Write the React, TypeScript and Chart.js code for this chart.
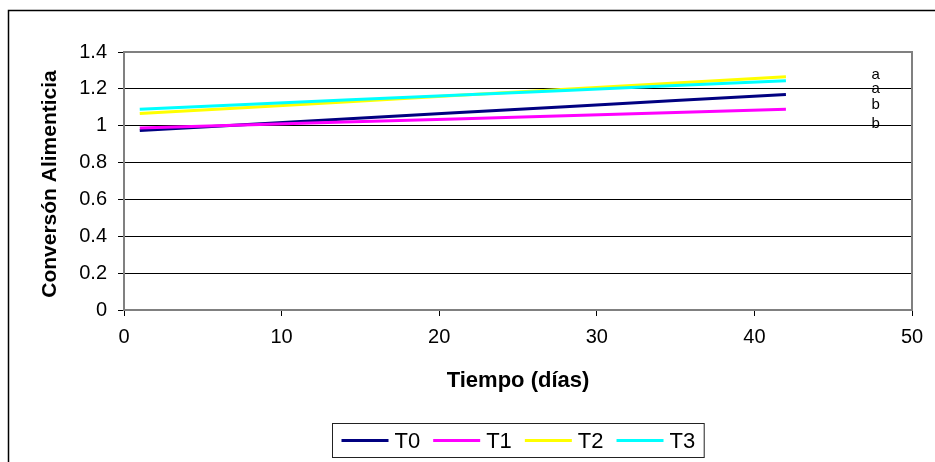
import React, { useEffect, useRef } from 'react';
import { Chart, registerables } from 'chart.js';

Chart.register(...registerables);

// ---- data ----
const days = [1, 7, 14, 21, 28, 35, 42];
const t0Values = [0.974, 1.003, 1.036, 1.070, 1.103, 1.137, 1.170];
const t1Values = [0.988, 1.003, 1.020, 1.037, 1.054, 1.072, 1.089];
const t2Values = [1.066, 1.095, 1.129, 1.164, 1.198, 1.232, 1.266];
const t3Values = [1.090, 1.113, 1.139, 1.165, 1.191, 1.218, 1.244];
const seriesNames = ['T0', 'T1', 'T2', 'T3'];
const seriesColors = ['#000080', '#FF00FF', '#FFFF00', '#00FFFF'];
const seriesValues = [t0Values, t1Values, t2Values, t3Values];

const xMin = 0;
const xMax = 50;
const xStep = 10;
const yMin = 0;
const yMax = 1.4;
const yStep = 0.2;

const xTitle = 'Tiempo (días)';
const yTitle = 'Conversón Alimenticia';

const letterLabels = ['a', 'a', 'b', 'b'];
const letterYValues = [1.274, 1.199, 1.113, 1.011];
const letterXValue = 47.7;

const FONT = '"Liberation Sans", Arial, sans-serif';

export default function App() {
  const ref = useRef<HTMLCanvasElement | null>(null);

  useEffect(() => {
    const canvas = ref.current;
    if (!canvas) return;

    const decorPlugin = {
      id: 'decor',
      beforeDraw(chart: any) {
        const ctx = chart.ctx;
        ctx.save();
        ctx.fillStyle = '#fff';
        ctx.fillRect(0, 0, chart.width, chart.height);
        // outer chart frame
        ctx.strokeStyle = '#000';
        ctx.lineWidth = 1.5;
        ctx.strokeRect(8.5, 10.5, chart.width + 20, chart.height + 20);
        ctx.restore();
      },
      beforeDatasetsDraw(chart: any) {
        const ctx = chart.ctx;
        const a = chart.chartArea;
        ctx.save();
        ctx.strokeStyle = '#808080';
        ctx.lineWidth = 2;
        ctx.strokeRect(a.left, a.top, a.right - a.left, a.bottom - a.top);
        ctx.restore();
      },
      afterDraw(chart: any) {
        const ctx = chart.ctx;
        const a = chart.chartArea;
        const xs = chart.scales.x;
        const ys = chart.scales.y;
        ctx.save();
        ctx.fillStyle = '#000';
        // axis titles
        ctx.textAlign = 'center';
        ctx.textBaseline = 'middle';
        ctx.font = `bold 22px ${FONT}`;
        ctx.fillText(xTitle, (a.left + a.right) / 2, 381);
        ctx.save();
        ctx.font = `bold 21px ${FONT}`;
        ctx.translate(50, (a.top + a.bottom) / 2 + 3);
        ctx.rotate(-Math.PI / 2);
        ctx.fillText(yTitle, 0, 0);
        ctx.restore();

        // significance letters
        ctx.font = `15px ${FONT}`;
        letterLabels.forEach((t, i) => {
          ctx.fillText(t, xs.getPixelForValue(letterXValue), ys.getPixelForValue(letterYValues[i]));
        });

        // legend
        ctx.font = `22px ${FONT}`;
        const lineLen = 47;
        const gapLine = 6;
        const gapItem = 13;
        const padX = 9;
        let total = padX * 2;
        const widths = seriesNames.map((n) => ctx.measureText(n).width);
        widths.forEach((w, i) => {
          total += lineLen + gapLine + w + (i < widths.length - 1 ? gapItem : 0);
        });
        const boxX = Math.round((a.left + a.right) / 2 - total / 2) + 0.5;
        const boxY = 423.5;
        const boxH = 34;
        ctx.strokeStyle = '#222';
        ctx.lineWidth = 1;
        ctx.strokeRect(boxX, boxY, total, boxH);
        let x = boxX + padX;
        const cy = boxY + boxH / 2;
        ctx.textAlign = 'left';
        seriesNames.forEach((n, i) => {
          ctx.strokeStyle = seriesColors[i];
          ctx.lineWidth = 3;
          ctx.beginPath();
          ctx.moveTo(x, cy);
          ctx.lineTo(x + lineLen, cy);
          ctx.stroke();
          x += lineLen + gapLine;
          ctx.fillStyle = '#000';
          ctx.fillText(n, x, cy + 1);
          x += widths[i] + gapItem;
        });
        ctx.restore();
      },
    };

    const chart = new Chart(canvas, {
      type: 'line',
      data: {
        datasets: seriesNames.map((name, i) => ({
          label: name,
          data: days.map((d, j) => ({ x: d, y: seriesValues[i][j] })),
          borderColor: seriesColors[i],
          backgroundColor: seriesColors[i],
          borderWidth: 3,
          pointRadius: 0,
          tension: 0,
          fill: false,
          order: seriesNames.length - i,
        })),
      },
      options: {
        animation: false,
        responsive: false,
        devicePixelRatio: 1,
        layout: { padding: { top: 52, right: 23, left: 0, bottom: 0 } },
        plugins: { legend: { display: false }, tooltip: { enabled: false } },
        scales: {
          x: {
            type: 'linear',
            min: xMin,
            max: xMax,
            ticks: {
              stepSize: xStep,
              color: '#000',
              padding: 9,
              font: { family: FONT, size: 20 },
              maxRotation: 0,
            },
            grid: {
              drawOnChartArea: false,
              drawTicks: true,
              tickLength: 6,
              tickColor: '#000',
              tickWidth: 1,
            },
            border: { display: false },
            afterFit: (s: any) => {
              s.height = 152;
            },
          },
          y: {
            type: 'linear',
            min: yMin,
            max: yMax,
            ticks: {
              stepSize: yStep,
              color: '#000',
              padding: 11,
              font: { family: FONT, size: 20 },
              callback: (v: any) => String(Math.round(Number(v) * 10) / 10),
            },
            grid: {
              color: (c: any) =>
                c.tick && c.tick.value > yMin + 0.01 && c.tick.value < yMax - 0.01 ? '#000' : 'rgba(0,0,0,0)',
              lineWidth: 1,
              drawTicks: true,
              tickLength: 6,
              tickColor: '#000',
              tickWidth: 1,
            },
            border: { display: false },
            afterFit: (s: any) => {
              s.width = 124;
            },
          },
        },
      },
      plugins: [decorPlugin],
    });

    return () => chart.destroy();
  }, []);

  return (
    <div style={{ position: 'fixed', left: 0, top: 0, width: 935, height: 462, background: '#fff' }}>
      <canvas ref={ref} width={935} height={462} style={{ display: 'block', width: 935, height: 462 }} />
    </div>
  );
}
